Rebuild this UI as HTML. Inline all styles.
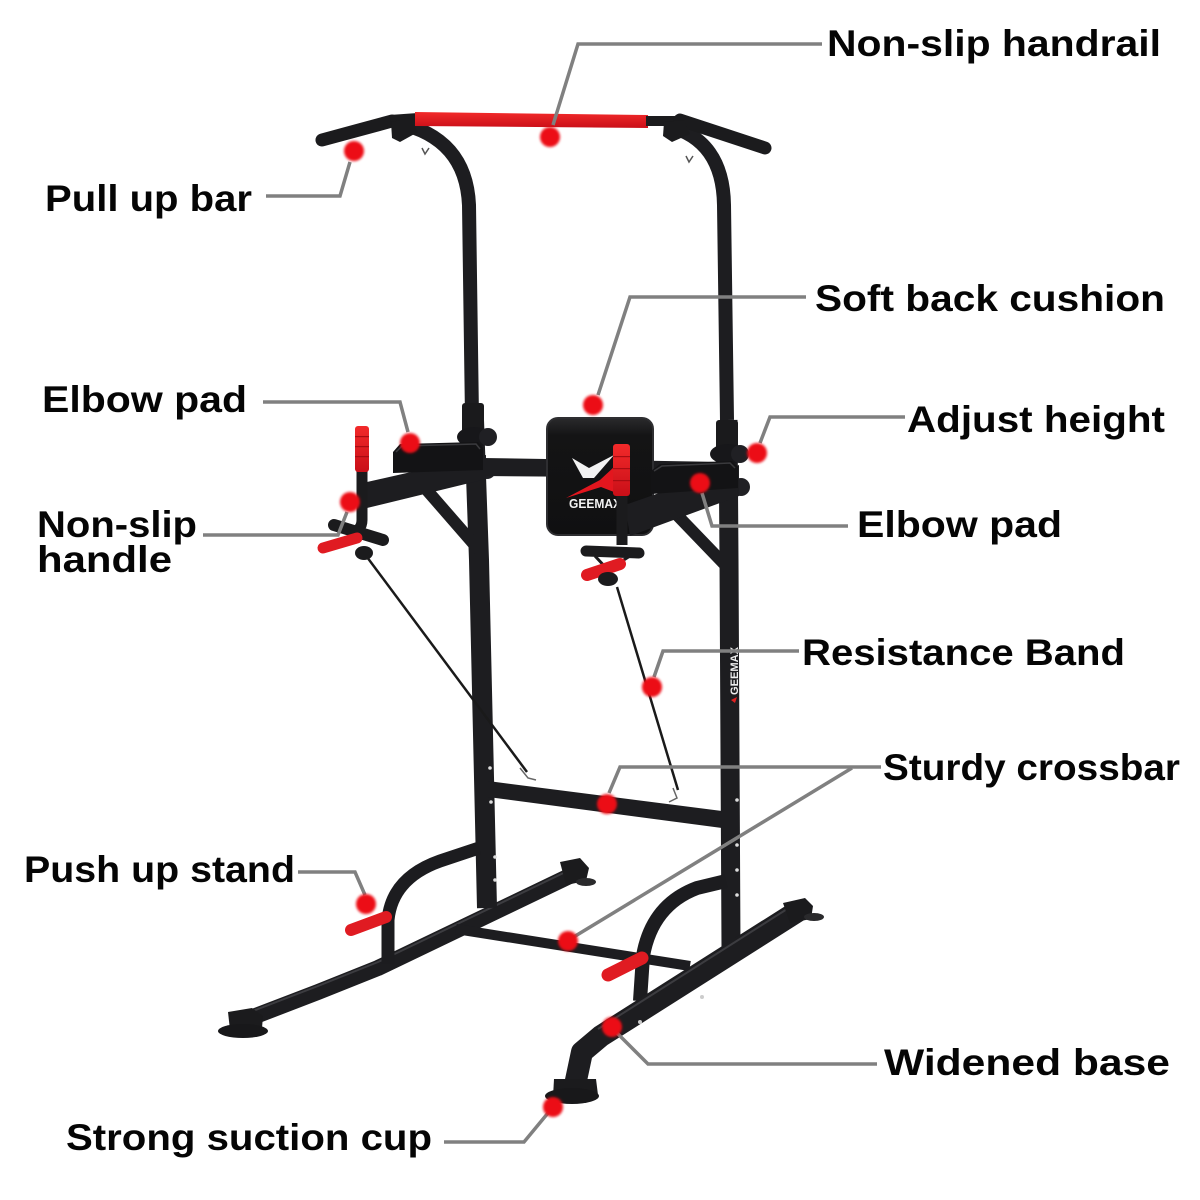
<!DOCTYPE html>
<html><head><meta charset="utf-8"><style>
html,body{margin:0;padding:0;background:#fff;}
svg{display:block;}
.t{font-family:"Liberation Sans",Arial,sans-serif;font-weight:bold;fill:#050505;font-size:37px;}
</style></head><body>
<svg width="1200" height="1200" viewBox="0 0 1200 1200" xmlns="http://www.w3.org/2000/svg">
<defs>
<filter id="b" x="-50%" y="-50%" width="200%" height="200%"><feGaussianBlur stdDeviation="1.2"/></filter>
<linearGradient id="red" x1="0" y1="0" x2="0" y2="1"><stop offset="0" stop-color="#f22a2a"/><stop offset="1" stop-color="#c90f18"/></linearGradient>
<linearGradient id="cush" x1="0" y1="0" x2="0" y2="1"><stop offset="0" stop-color="#2a2a2c"/><stop offset="0.15" stop-color="#141415"/><stop offset="1" stop-color="#101011"/></linearGradient>
</defs>
<rect width="1200" height="1200" fill="#fff"/>

<g fill="none" stroke="#1d1d20" stroke-linejoin="round">
  <!-- left base rail (back) -->
  <polyline points="578,872 378,968 318,992 245,1020" stroke-width="16"/>
  <polyline points="578,866 378,962 318,986 245,1014" stroke-width="2" stroke="#3c3c40"/>
  <!-- rear crossbar -->
  <line x1="456" y1="929" x2="690" y2="966" stroke-width="10"/>
  <!-- left upright lower -->
  <polyline points="474,420 479,560 487,908" stroke-width="20"/>
  <!-- right upright lower -->
  <polyline points="728,420 729,560 731,948" stroke-width="19"/>
  <!-- left upright upper -->
  <path d="M398,123 Q466,138 469,205 L472,418" stroke-width="14"/>
  <!-- right upright upper -->
  <path d="M668,126 Q723,140 724,205 L727,420" stroke-width="14"/>
  <!-- left brace -->
  <line x1="425" y1="488" x2="479" y2="550" stroke-width="12"/>
  <!-- right brace -->
  <line x1="677" y1="515" x2="728" y2="568" stroke-width="12"/>
</g>

<!-- lower crossbar -->
<polygon points="488,781 722,811 722,828 488,797" fill="#1d1d20"/>
<!-- uprights highlight dots -->
<g fill="#ddd">
  <circle cx="490" cy="768" r="1.8"/><circle cx="491" cy="802" r="1.8"/><circle cx="737" cy="800" r="1.8"/><circle cx="737" cy="845" r="1.8"/>
  <circle cx="495" cy="857" r="1.8"/><circle cx="495" cy="880" r="1.8"/><circle cx="737" cy="870" r="1.8"/><circle cx="737" cy="895" r="1.8"/>
</g>
<!-- GEEMAX vertical text on right upright -->
<text x="0" y="0" transform="translate(738,695) rotate(-90)" font-family="Liberation Sans,Arial,sans-serif" font-weight="bold" font-size="11" fill="#eee" textLength="48" lengthAdjust="spacingAndGlyphs">GEEMAX</text>
<path d="M731,700 l6,-3 l-2,6 z" fill="#e02020"/>

<!-- resistance bands -->
<g stroke="#1a1a1a" stroke-width="2.5" fill="none">
  <line x1="364" y1="553" x2="527" y2="772"/>
  <line x1="617" y1="587" x2="678" y2="790"/>
  <path d="M520,768 l8,10 l8,2" stroke="#666" stroke-width="1.5"/>
  <path d="M673,788 l4,10 l-8,4" stroke="#666" stroke-width="1.5"/>
</g>

<!-- collars and knobs -->
<rect x="462" y="403" width="22" height="44" rx="3" fill="#1a1a1c"/>
<rect x="716" y="420" width="22" height="44" rx="3" fill="#1a1a1c"/>
<ellipse cx="474" cy="437" rx="17" ry="10" fill="#17171a"/>
<circle cx="488" cy="437" r="9" fill="#202024"/>
<ellipse cx="728" cy="454" rx="18" ry="10" fill="#17171a"/>
<circle cx="740" cy="454" r="9" fill="#202024"/>
<circle cx="741" cy="487" r="9" fill="#202024"/>
<circle cx="487" cy="470" r="9" fill="#202024"/>

<!-- dip center bar -->
<polygon points="483,458 725,462 725,478 483,476" fill="#1d1d20"/>
<!-- left dip arm -->
<polygon points="367,482 486,455 486,479 367,508" fill="#1d1d20"/>
<!-- left elbow pad -->
<path d="M393,452 L400,444 L478,442 L483,448 L483,470 L393,473 Z" fill="#131315"/>
<path d="M396,452 L402,446 L476,444 L480,449" stroke="#3a3a3d" stroke-width="1.5" fill="none"/>

<!-- back cushion -->
<rect x="547" y="418" width="106" height="117" rx="11" fill="url(#cush)" stroke="#2e2e31" stroke-width="2"/>
<polygon points="572,458 589,468 614,455 594,478 583,478" fill="#f2f2f2"/>
<polygon points="566,498 600,480 615,466 614,492 601,487" fill="#e3161e"/>
<text x="569" y="508" font-family="Liberation Sans,Arial,sans-serif" font-weight="bold" font-size="13" fill="#f2f2f2" textLength="52" lengthAdjust="spacingAndGlyphs">GEEMAX</text>

<!-- right dip arm -->
<polygon points="625,505 739,465 739,496 630,536" fill="#1d1d20"/>
<!-- right elbow pad -->
<path d="M651,471 L660,464 L732,461 L738,467 L738,488 L651,494 Z" fill="#131315"/>
<path d="M654,471 L662,466 L730,463 L735,468" stroke="#3a3a3d" stroke-width="1.5" fill="none"/>

<!-- left handle -->
<path d="M362,470 L362,520 Q362,531 350,533" stroke="#1b1b1d" stroke-width="11" fill="none"/>
<rect x="355" y="426" width="14" height="46" rx="3" fill="url(#red)"/>
<g fill="#a80c12"><rect x="355" y="436" width="14" height="1.2"/><rect x="355" y="446" width="14" height="1.2"/><rect x="355" y="456" width="14" height="1.2"/></g>
<line x1="334" y1="525" x2="383" y2="540" stroke="#1b1b1d" stroke-width="12" stroke-linecap="round"/>
<line x1="323" y1="548" x2="357" y2="538" stroke="#e01b22" stroke-width="11" stroke-linecap="round"/>
<ellipse cx="364" cy="553" rx="9" ry="7" fill="#1b1b1d"/>

<!-- right handle -->
<path d="M622,494 L622,545" stroke="#1b1b1d" stroke-width="11" fill="none"/>
<rect x="613" y="444" width="17" height="52" rx="3" fill="url(#red)"/>
<g fill="#a80c12"><rect x="613" y="456" width="17" height="1.2"/><rect x="613" y="468" width="17" height="1.2"/><rect x="613" y="480" width="17" height="1.2"/></g>
<line x1="586" y1="551" x2="639" y2="553" stroke="#1b1b1d" stroke-width="11" stroke-linecap="round"/>
<path d="M595,556 L608,570 L630,556" stroke="#1b1b1d" stroke-width="3" fill="none"/>
<line x1="587" y1="575" x2="620" y2="564" stroke="#e01b22" stroke-width="12" stroke-linecap="round"/>
<ellipse cx="608" cy="579" rx="10" ry="7" fill="#1b1b1d"/>

<!-- pull-up bar -->
<line x1="322" y1="140" x2="392" y2="121" stroke="#1b1b1d" stroke-width="13" stroke-linecap="round"/>
<line x1="390" y1="120" x2="418" y2="118" stroke="#1b1b1d" stroke-width="10"/>
<polygon points="415,112 648,115 648,128 415,126" fill="url(#red)"/>
<line x1="646" y1="121" x2="684" y2="121" stroke="#1b1b1d" stroke-width="10"/>
<line x1="680" y1="120" x2="765" y2="148" stroke="#1b1b1d" stroke-width="13" stroke-linecap="round"/>
<!-- top brackets -->
<polygon points="391,122 410,118 418,132 400,142 392,138" fill="#1b1b1d"/>
<polygon points="664,122 684,120 690,134 672,142 663,136" fill="#1b1b1d"/>
<path d="M422,148 l3,6 l4,-6" stroke="#555" stroke-width="1.5" fill="none"/>
<path d="M686,156 l3,6 l4,-6" stroke="#555" stroke-width="1.5" fill="none"/>

<!-- push-up stands -->
<g fill="none" stroke="#1c1c1f" stroke-linejoin="round">
  <path d="M388,964 L388,920 Q392,878 440,861 L479,848" stroke-width="13"/>
  <path d="M640,1001 L643,956 Q652,905 697,888 L726,881" stroke-width="14"/>
</g>
<line x1="351" y1="930" x2="386" y2="917" stroke="#e01b22" stroke-width="12" stroke-linecap="round"/>
<line x1="608" y1="975" x2="642" y2="958" stroke="#e01b22" stroke-width="13" stroke-linecap="round"/>

<!-- left rail caps -->
<polygon points="560,862 580,858 589,868 586,881 566,885" fill="#1b1b1d"/>
<ellipse cx="586" cy="882" rx="10" ry="4" fill="#2a2a2c"/>
<polygon points="228,1012 252,1008 263,1016 262,1028 230,1030" fill="#1b1b1d"/>
<ellipse cx="243" cy="1031" rx="25" ry="7" fill="#18181a"/>

<!-- right base rail (front) -->
<polyline points="798,911 601,1036 582,1052 575,1085" fill="none" stroke="#1d1d20" stroke-width="22" stroke-linejoin="round"/>
<polyline points="795,904 598,1029" fill="none" stroke="#3c3c40" stroke-width="2"/>
<polygon points="783,903 805,898 813,906 811,919 790,923" fill="#1b1b1d"/>
<ellipse cx="814" cy="917" rx="10" ry="4" fill="#2a2a2c"/>
<polygon points="554,1079 596,1079 598,1095 553,1097" fill="#1b1b1d"/>
<ellipse cx="572" cy="1096" rx="27" ry="8" fill="#18181a"/>
<circle cx="702" cy="997" r="2" fill="#ccc"/><circle cx="640" cy="1022" r="2" fill="#ccc"/>

<!-- leader lines -->
<g fill="none" stroke="#808080" stroke-width="3.5" stroke-linejoin="miter">
  <polyline points="822,44 578,44 553,125"/>
  <polyline points="266,196 340,196 350,162"/>
  <polyline points="806,297 630,297 598,395"/>
  <polyline points="263,402 400,402 408,432"/>
  <polyline points="905,417 770,417 760,443"/>
  <polyline points="203,535 338,535 347,512"/>
  <polyline points="848,526 712,526 702,493"/>
  <polyline points="799,651 663,651 654,677"/>
  <polyline points="881,767 620,767 609,793"/>
  <line x1="852" y1="768" x2="572" y2="938"/>
  <polyline points="298,872 355,872 365,895"/>
  <polyline points="877,1064 648,1064 617,1033"/>
  <polyline points="444,1142 524,1142 548,1113"/>
</g>

<!-- red dots -->
<g fill="#ec0d16" filter="url(#b)">
  <circle cx="550" cy="137" r="10"/>
  <circle cx="354" cy="151" r="10"/>
  <circle cx="593" cy="405" r="10"/>
  <circle cx="410" cy="443" r="10"/>
  <circle cx="757" cy="453" r="10"/>
  <circle cx="350" cy="502" r="10"/>
  <circle cx="700" cy="483" r="10"/>
  <circle cx="652" cy="687" r="10"/>
  <circle cx="607" cy="804" r="10"/>
  <circle cx="568" cy="941" r="10"/>
  <circle cx="366" cy="904" r="10"/>
  <circle cx="612" cy="1027" r="10"/>
  <circle cx="553" cy="1107" r="10"/>
</g>

<!-- labels -->
<text class="t" x="827" y="56" textLength="334" lengthAdjust="spacingAndGlyphs">Non-slip handrail</text>
<text class="t" x="45" y="211" textLength="207" lengthAdjust="spacingAndGlyphs">Pull up bar</text>
<text class="t" x="815" y="311" textLength="350" lengthAdjust="spacingAndGlyphs">Soft back cushion</text>
<text class="t" x="42" y="412" textLength="205" lengthAdjust="spacingAndGlyphs">Elbow pad</text>
<text class="t" x="907" y="432" textLength="258" lengthAdjust="spacingAndGlyphs">Adjust height</text>
<text class="t" x="37" y="537" textLength="160" lengthAdjust="spacingAndGlyphs">Non-slip</text>
<text class="t" x="37" y="572" textLength="135" lengthAdjust="spacingAndGlyphs">handle</text>
<text class="t" x="857" y="537" textLength="205" lengthAdjust="spacingAndGlyphs">Elbow pad</text>
<text class="t" x="802" y="665" textLength="323" lengthAdjust="spacingAndGlyphs">Resistance Band</text>
<text class="t" x="883" y="780" textLength="297" lengthAdjust="spacingAndGlyphs">Sturdy crossbar</text>
<text class="t" x="24" y="882" textLength="271" lengthAdjust="spacingAndGlyphs">Push up stand</text>
<text class="t" x="884" y="1075" textLength="286" lengthAdjust="spacingAndGlyphs">Widened base</text>
<text class="t" x="66" y="1150" textLength="366" lengthAdjust="spacingAndGlyphs">Strong suction cup</text>
</svg>
</body></html>
